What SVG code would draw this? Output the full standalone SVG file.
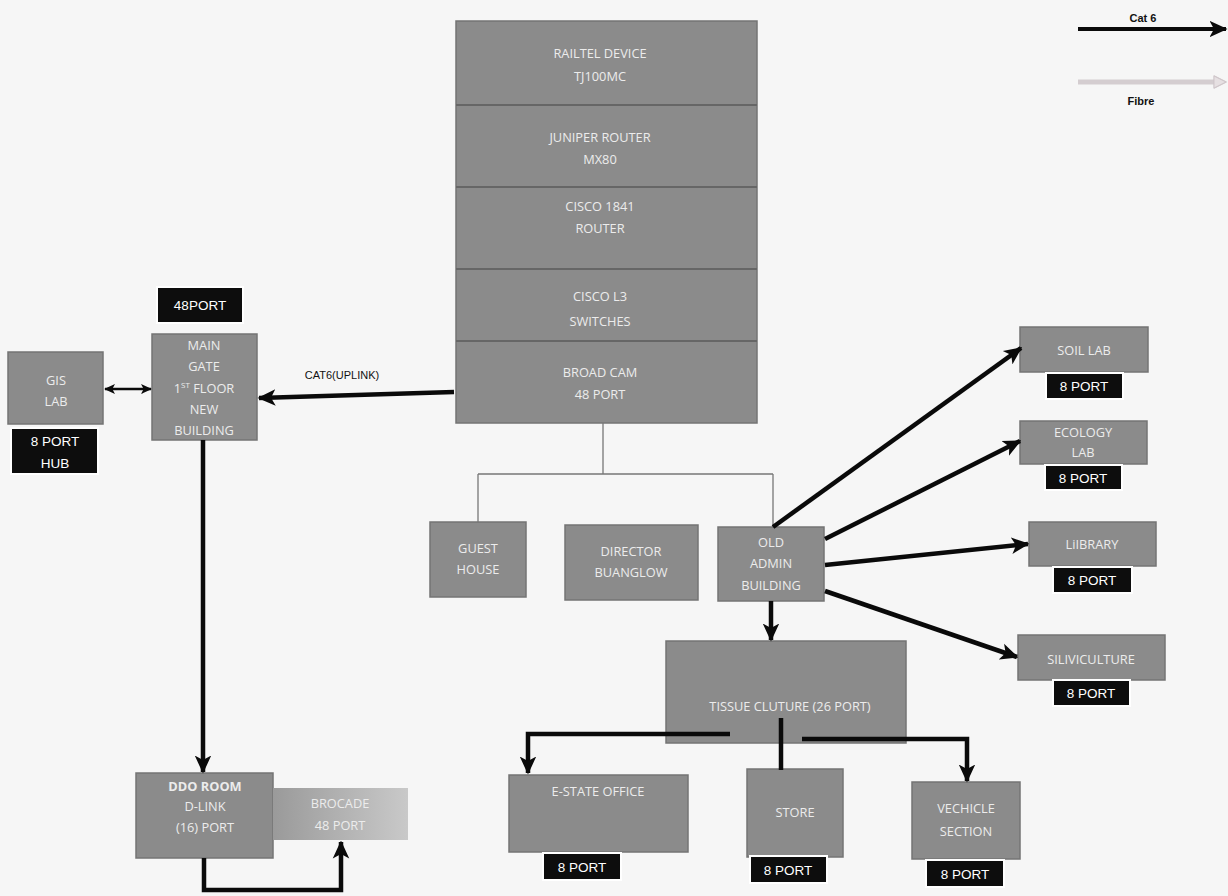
<svg xmlns="http://www.w3.org/2000/svg" width="1228" height="896" viewBox="0 0 1228 896">
<defs>
<style>
.box{fill:#8b8b8b;stroke:#747474;stroke-width:1.5}
.t{font-family:"Open Sans","Liberation Sans",sans-serif;font-size:12.8px;fill:#ececec;text-anchor:middle}
.tag{fill:#0d0d0d;stroke:#ffffff;stroke-width:2}
.tt{font-family:"Liberation Sans",Arial,sans-serif;font-size:13.5px;fill:#ffffff;text-anchor:middle}
.lbl{font-family:"Liberation Sans",Arial,sans-serif;font-size:11px;fill:#111;text-anchor:middle}
.thick{fill:none;stroke:#0a0a0a;stroke-width:4.5}
.thin{fill:none;stroke:#777;stroke-width:1.3}
</style>
<marker id="ah" viewBox="0 0 12 12" markerUnits="userSpaceOnUse" markerWidth="18" markerHeight="18" refX="11" refY="6" orient="auto">
<path d="M0,0.5 L12,6 L0,11.5 L3,6 z" fill="#0a0a0a"/>
</marker>
<marker id="ahs" viewBox="0 0 12 12" markerUnits="userSpaceOnUse" markerWidth="11" markerHeight="11" refX="11" refY="6" orient="auto-start-reverse">
<path d="M0,0.5 L12,6 L0,11.5 L3,6 z" fill="#0a0a0a"/>
</marker>
<marker id="ahf" viewBox="0 0 12 12" markerUnits="userSpaceOnUse" markerWidth="14" markerHeight="14" refX="11" refY="6" orient="auto">
<path d="M1,1 L11,6 L1,11 z" fill="#e6e0e2" stroke="#cfc6ca" stroke-width="1.2"/>
</marker>
<linearGradient id="brg" x1="0" y1="0" x2="1" y2="0">
<stop offset="0" stop-color="#9a9a9a"/>
<stop offset="1" stop-color="#c9c9c9"/>
</linearGradient>
</defs>
<rect width="1228" height="896" fill="#f6f6f6"/>

<g id="legend">
<text x="1143" y="22" class="lbl" font-weight="bold" font-size="12.5">Cat 6</text>
<line x1="1078" y1="29" x2="1226" y2="29" stroke="#0a0a0a" stroke-width="4" marker-end="url(#ah)"/>
<line x1="1078" y1="82" x2="1216" y2="82" stroke="#d4cdd0" stroke-width="5"/>
<line x1="1214" y1="82" x2="1226" y2="82" stroke="none" marker-end="url(#ahf)"/>
<path d="M1214,76 L1226,82 L1214,88 z" fill="#e6e0e2" stroke="#cfc6ca" stroke-width="1"/>
<text x="1141" y="105" class="lbl" font-weight="bold" font-size="12.5">Fibre</text>
</g>

<g id="stack">
<rect x="456" y="21" width="301" height="402" class="box" fill="#8a8a8a"/>
<g stroke="#666" stroke-width="2">
<line x1="456" y1="105" x2="757" y2="105"/>
<line x1="456" y1="187" x2="757" y2="187"/>
<line x1="456" y1="269" x2="757" y2="269"/>
<line x1="456" y1="341" x2="757" y2="341"/>
</g>
<text x="600" y="58" class="t">RAILTEL DEVICE</text>
<text x="600" y="81" class="t">TJ100MC</text>
<text x="600" y="142" class="t">JUNIPER ROUTER</text>
<text x="600" y="164" class="t">MX80</text>
<text x="600" y="211" class="t">CISCO 1841</text>
<text x="600" y="233" class="t">ROUTER</text>
<text x="600" y="301" class="t">CISCO L3</text>
<text x="600" y="326" class="t">SWITCHES</text>
<text x="600" y="377" class="t">BROAD CAM</text>
<text x="600" y="399" class="t">48 PORT</text>
</g>

<g id="port48">
<rect x="157" y="287" width="86" height="36" class="tag"/>
<text x="200" y="310" class="tt">48PORT</text>
</g>

<g id="maingate">
<rect x="152" y="334" width="105" height="106" class="box"/>
<text x="204" y="350" class="t">MAIN</text>
<text x="204" y="371" class="t">GATE</text>
<text x="204" y="393" class="t">1<tspan font-size="8" dy="-5">ST</tspan><tspan dy="5"> FLOOR</tspan></text>
<text x="204" y="414" class="t">NEW</text>
<text x="204" y="435" class="t">BUILDING</text>
</g>

<g id="gislab">
<rect x="8" y="352" width="95" height="72" class="box"/>
<text x="56" y="385" class="t">GIS</text>
<text x="56" y="406" class="t">LAB</text>
<rect x="11" y="428" width="87" height="46" class="tag"/>
<text x="55" y="446" class="tt">8 PORT</text>
<text x="55" y="468" class="tt">HUB</text>
</g>

<g id="ddo">
<rect x="136" y="773" width="137" height="85" class="box" fill="#858585"/>
<text x="205" y="791" class="t" font-weight="bold">DDO ROOM</text>
<text x="205" y="811" class="t">D-LINK</text>
<text x="205" y="832" class="t">(16) PORT</text>
</g>

<g id="brocade">
<rect x="273" y="788" width="135" height="52" fill="url(#brg)"/>
<text x="340" y="808" class="t">BROCADE</text>
<text x="340" y="830" class="t">48 PORT</text>
</g>

<g id="guesthouse">
<rect x="430" y="522" width="96" height="75" class="box"/>
<text x="478" y="553" class="t">GUEST</text>
<text x="478" y="574" class="t">HOUSE</text>
</g>

<g id="director">
<rect x="565" y="525" width="133" height="75" class="box"/>
<text x="631" y="556" class="t">DIRECTOR</text>
<text x="631" y="577" class="t">BUANGLOW</text>
</g>

<g id="oldadmin">
<rect x="718" y="527" width="106" height="74" class="box"/>
<text x="771" y="547" class="t">OLD</text>
<text x="771" y="568" class="t">ADMIN</text>
<text x="771" y="590" class="t">BUILDING</text>
</g>

<g id="soillab">
<rect x="1020" y="327" width="128" height="45" class="box"/>
<text x="1084" y="355" class="t">SOIL LAB</text>
<rect x="1046" y="373" width="77" height="26" class="tag"/>
<text x="1084" y="391" class="tt">8 PORT</text>
</g>

<g id="ecologylab">
<rect x="1020" y="421" width="127" height="43" class="box"/>
<text x="1083" y="437" class="t">ECOLOGY</text>
<text x="1083" y="457" class="t">LAB</text>
<rect x="1045" y="465" width="77" height="25" class="tag"/>
<text x="1083" y="483" class="tt">8 PORT</text>
</g>

<g id="library">
<rect x="1029" y="522" width="127" height="44" class="box"/>
<text x="1092" y="549" class="t">LiIBRARY</text>
<rect x="1053" y="567" width="79" height="26" class="tag"/>
<text x="1092" y="585" class="tt">8 PORT</text>
</g>

<g id="siliviculture">
<rect x="1018" y="635" width="147" height="45" class="box"/>
<text x="1091" y="664" class="t">SILIVICULTURE</text>
<rect x="1053" y="680" width="77" height="26" class="tag"/>
<text x="1091" y="698" class="tt">8 PORT</text>
</g>

<g id="tissue">
<rect x="666" y="641" width="240" height="102" class="box"/>
<text x="790" y="711" class="t">TISSUE CLUTURE (26 PORT)</text>
</g>

<g id="estate">
<rect x="509" y="775" width="179" height="77" class="box"/>
<text x="598" y="796" class="t">E-STATE OFFICE</text>
<rect x="543" y="853" width="78" height="27" class="tag"/>
<text x="582" y="872" class="tt">8 PORT</text>
</g>

<g id="store">
<rect x="747" y="769" width="96" height="88" class="box"/>
<text x="795" y="817" class="t">STORE</text>
<rect x="750" y="856" width="77" height="27" class="tag"/>
<text x="788" y="875" class="tt">8 PORT</text>
</g>

<g id="vehicle">
<rect x="912" y="782" width="108" height="77" class="box"/>
<text x="966" y="813" class="t">VECHICLE</text>
<text x="966" y="836" class="t">SECTION</text>
<rect x="926" y="860" width="78" height="27" class="tag"/>
<text x="965" y="879" class="tt">8 PORT</text>
</g>

<g id="connectors">
<text x="342" y="379" class="lbl" font-size="10.5">CAT6(UPLINK)</text>
<line x1="454" y1="392" x2="259" y2="398" class="thick" marker-end="url(#ah)"/>
<line x1="105" y1="389" x2="151" y2="389" fill="none" stroke="#0a0a0a" stroke-width="2.5" marker-start="url(#ahs)" marker-end="url(#ahs)"/>
<line x1="203" y1="440" x2="203" y2="772" class="thick" marker-end="url(#ah)"/>
<path d="M204,858 V890 H341 V842" class="thick" marker-end="url(#ah)"/>
<path d="M603,423 V474 M478,474 H773 M478,474 V522 M773,474 V527" class="thin"/>
<line x1="773" y1="527" x2="1021" y2="348" class="thick" marker-end="url(#ah)"/>
<line x1="825" y1="539" x2="1020" y2="441" class="thick" marker-end="url(#ah)"/>
<line x1="825" y1="565" x2="1028" y2="544" class="thick" marker-end="url(#ah)"/>
<line x1="825" y1="591" x2="1017" y2="657" class="thick" marker-end="url(#ah)"/>
<line x1="771" y1="601" x2="771" y2="640" class="thick" marker-end="url(#ah)"/>
<path d="M730,734 H528 V773" class="thick" marker-end="url(#ah)"/>
<line x1="781" y1="718" x2="781" y2="770" class="thick"/>
<path d="M802,739 H967 V781" class="thick" marker-end="url(#ah)"/>
</g>
</svg>
